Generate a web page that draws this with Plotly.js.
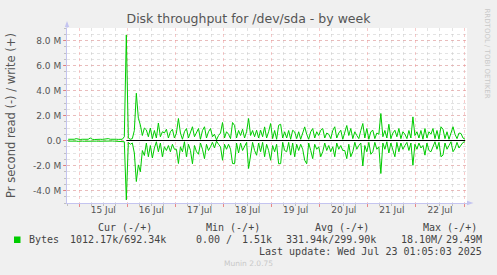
<!DOCTYPE html>
<html>
<head>
<meta charset="utf-8">
<script src="https://cdn.plot.ly/plotly-3.0.1.min.js"></script>
<style>
  html, body { margin: 0; padding: 0; background: #F0F0F0; }
  #chart { width: 497px; height: 275px; }
</style>
</head>
<body>
<div id="chart"></div>
<script>
// ---------------- DATA ----------------
// hourly samples starting at this time (UTC-naive)
const startTime = Date.UTC(2025, 6, 14, 18, 30);
const stepHours = 1;

// write (+) in MB/s, hourly
const writeMB = [
  0.1, 0.08, 0.12, 0.1, 0.15, 0.1, 0.08, 0.1, 0.12, 0.09,
  0.1, 0.2, 0.1, 0.08, 0.1, 0.11, 0.1, 0.09, 0.12, 0.1,
  0.15, 0.1, 0.08, 0.1, 0.1, 0.09, 0.12, 0.1, 0.3,
  8.45, 0.2, 0.1, 0.15, 0.8, 3.78, 1.78, 1.25, 0.4, 1.0,
  0.85, 0.3, 1.0, 0.15, 0.8, 0.2, 1.4, 0.3, 0.7, 0.6,
  0.9, 0.2, 0.7, 0.9, 0.2, 0.6, 1.76, 0.6, 0.1, 0.7,
  0.96, 0.2, 0.7, 1.1, 0.3, 0.6, 0.96, 0.1, 0.8, 1.1,
  0.2, 0.7, 0.96, 0.3, 0.5, 0.05, 0.4, 0.6, 1.44, 0.2,
  0.7, 0.5, 0.15, 1.44, 1.2, 0.2, 0.8, 0.4, 0.9, 0.2,
  0.7, 1.76, 0.4, 0.8, 0.3, 0.82, 0.2, 0.82, 0.3, 1.09,
  0.2, 0.7, 1.36, 0.15, 0.8, 0.1, 1.22, 1.3, 0.2, 0.7,
  0.2, 0.8, 0.1, 0.82, 0.69, 0.15, 0.7, 0.1, 0.6, 1.09,
  0.5, 0.1, 0.7, 0.96, 0.2, 0.7, 0.4, 0.82, 0.96, 0.2,
  0.6, 0.5, 0.15, 0.8, 1.1, 0.2, 0.6, 0.82, 0.1, 0.7,
  1.2, 0.4, 0.96, 0.15, 0.7, 0.4, 0.15, 0.8, 1.36, 0.2,
  0.96, 0.1, 0.7, 0.82, 0.15, 0.6, 0.5, 2.16, 0.3, 0.8,
  0.2, 1.3, 0.15, 0.6, 0.82, 0.3, 0.96, 0.15, 0.7, 0.5,
  0.15, 0.8, 0.2, 1.89, 0.4, 0.7, 0.2, 0.8, 0.1, 0.96,
  0.2, 0.7, 0.5, 0.96, 0.15, 0.8, 0.1, 1.1, 0.9, 0.15,
  0.7, 0.1, 0.6, 1.1, 0.5, 0.15, 0.6, 0.56, 0.2, 0.1
];

// read (-) in MB/s, hourly (plotted negative)
const readMB = [
  -0.05, -0.04, -0.06, -0.05, -0.05, -0.07, -0.04, -0.05, -0.06, -0.05,
  -0.05, -0.08, -0.05, -0.04, -0.05, -0.06, -0.05, -0.04, -0.06, -0.05,
  -0.07, -0.05, -0.04, -0.05, -0.05, -0.04, -0.06, -0.05, -0.1,
  -4.75, -0.15, -0.3, -0.2, -1.0, -3.28, -1.95, -2.5, -0.8, -1.2,
  -0.2, -1.3, -0.4, -1.4, -0.6, -0.1, -0.9, -0.2, -1.3, -0.5,
  -0.8, -0.4, -0.9, -0.3, -0.7, -0.7, -1.84, -0.5, -0.9, -0.1,
  -1.3, -0.3, -0.8, -1.86, -0.4, -0.9, -1.1, -0.2, -0.7, -1.45,
  -0.3, -0.8, -0.5, -0.15, -0.6, -0.05, -0.3, -0.5, -1.58, -0.3,
  -0.7, -0.3, -0.7, -1.84, -1.86, -0.2, -1.0, -0.2, -0.8, -0.5,
  -0.15, -2.24, -1.0, -0.15, -0.8, -1.18, -0.2, -0.9, -0.15, -1.3,
  -0.3, -0.8, -1.58, -0.4, -0.9, -0.3, -1.86, -1.85, -0.15, -0.8,
  -0.9, -0.15, -1.17, -0.2, -1.3, -0.3, -0.8, -0.3, -0.7, -1.58,
  -1.86, -0.2, -0.8, -1.45, -0.3, -0.7, -0.5, -1.3, -0.9, -0.2,
  -0.8, -0.4, -0.9, -0.5, -1.3, -0.2, -0.7, -0.4, -0.8, -0.8,
  -1.45, -0.3, -1.3, -0.9, -0.15, -0.7, -0.4, -0.2, -2.03, -0.4,
  -0.9, -0.15, -1.1, -0.9, -0.15, -0.7, -0.5, -2.64, -0.2, -0.7,
  -0.1, -1.0, -0.2, -0.8, -1.3, -0.15, -0.9, -0.2, -0.7, -0.4,
  -0.15, -0.8, -0.2, -1.98, -0.3, -0.7, -0.2, -0.6, -0.4, -1.17,
  -0.2, -0.8, -0.9, -0.5, -0.1, -0.7, -0.15, -1.3, -1.17, -0.2,
  -0.7, -0.4, -0.1, -0.9, -0.64, -0.15, -0.6, -0.37, -0.15, -0.1
];
const spikeIndex = 29; // first sample of the active period

const dayTickVals = ['2025-07-15 12:00', '2025-07-16 12:00', '2025-07-17 12:00', '2025-07-18 12:00',
                     '2025-07-19 12:00', '2025-07-20 12:00', '2025-07-21 12:00', '2025-07-22 12:00'];
const dayLabels = ['15 Jul', '16 Jul', '17 Jul', '18 Jul', '19 Jul', '20 Jul', '21 Jul', '22 Jul'];

const yTickVals = [-4e6, -2e6, 0, 2e6, 4e6, 6e6, 8e6];
const yTickText = ['-4.0 M', '-2.0 M', '0.0', '2.0 M', '4.0 M', '6.0 M', '8.0 M'];

const legendName = 'Bytes';
const statHeaders = ['Cur (-/+)', 'Min (-/+)', 'Avg (-/+)', 'Max (-/+)'];
const statCur = '1012.17k/692.34k';
const statMinA = '0.00 /', statMinB = '1.51k';
const statAvg = '331.94k/299.90k';
const statMaxA = '18.10M/', statMaxB = '29.49M';
const lastUpdate = 'Last update: Wed Jul 23 01:05:03 2025';
const muninVersion = 'Munin 2.0.75';
const rrdCredit = 'RRDTOOL / TOBI OETIKER';

// ---------------- BUILD ----------------
function ts(i) {
  return new Date(startTime + i * stepHours * 3600000).toISOString().slice(0, 19).replace('T', ' ');
}
const times = writeMB.map((_, i) => ts(i));
const writeVals = writeMB.map(v => v * 1e6);
const readVals = readMB.map(v => v * 1e6);

const W = 497, H = 275, L = 67, R = 30, T = 28, B = 72;
const pw = W - L - R, ph = H - T - B;
const px = p => (p - L) / pw;
const py = p => (H - B - p) / ph;

const green = '#00CC00';
const axisBlue = '#c4c4f0';
const txt = '#555555';
const mono = 'DejaVu Sans Mono, monospace';
const sans = 'DejaVu Sans, sans-serif';

const xRange = ['2025-07-14 17:54', '2025-07-23 01:29'];

const traces = [
  { x: times, y: readVals, type: 'scatter', mode: 'lines', line: { color: green, width: 1 }, hoverinfo: 'skip', showlegend: false },
  { x: times, y: writeVals, type: 'scatter', mode: 'lines', line: { color: green, width: 1 }, hoverinfo: 'skip', showlegend: false },
  { x: [], y: [], xaxis: 'x2', yaxis: 'y', type: 'scatter', showlegend: false }
];

const ann = [];
const a = (text, x, y, xanchor, font, extra) => ann.push(Object.assign({
  text, x: px(x), y: py(y), xref: 'paper', yref: 'paper', xanchor, yanchor: 'middle',
  showarrow: false, font
}, extra || {}));

const monoFont = { family: mono, size: 10, color: '#444' };
a(statHeaders[0], 125, 227.3, 'center', monoFont);
a(statHeaders[1], 233, 227.3, 'center', monoFont);
a(statHeaders[2], 341.5, 227.3, 'center', monoFont);
a(statHeaders[3], 449.5, 227.3, 'center', monoFont);
a(legendName, 27, 239.7, 'left', monoFont);
a(statCur, 168, 239.7, 'right', monoFont);
a(statMinA, 194, 239.7, 'left', monoFont);
a(statMinB, 274, 239.7, 'right', monoFont);
a(statAvg, 378, 239.7, 'right', monoFont);
a(statMaxA, 399, 239.7, 'left', monoFont);
a(statMaxB, 484, 239.7, 'right', monoFont);
a(lastUpdate, 484, 251.7, 'right', monoFont);
a(muninVersion, 248, 263.3, 'center', { family: sans, size: 7.5, color: '#c8c8c8' });
a(rrdCredit, 486.5, 53, 'center', { family: sans, size: 7, color: '#c8c8c8' }, { textangle: 90 });

const shapes = [
  // legend colour box
  { type: 'rect', xref: 'paper', yref: 'paper', x0: px(14), x1: px(20.5), y0: py(243), y1: py(236.5),
    fillcolor: green, line: { width: 0 } },
  // zero line
  { type: 'line', xref: 'x', yref: 'y', x0: times[spikeIndex], x1: times[times.length - 1], y0: 0, y1: 0,
    line: { color: '#000', width: 1.2 }, layer: 'above' },
  // axis arrows
  { type: 'path', xref: 'paper', yref: 'paper',
    path: `M ${px(467)},${py(200.8)} L ${px(473.5)},${py(203)} L ${px(467)},${py(205.2)} Z`,
    fillcolor: axisBlue, line: { width: 0 } },
  { type: 'line', xref: 'paper', yref: 'paper', x0: 1, x1: px(468), y0: 0, y1: 0, line: { color: axisBlue, width: 1 } },
  { type: 'path', xref: 'paper', yref: 'paper',
    path: `M ${px(64.8)},${py(27)} L ${px(67)},${py(21)} L ${px(69.2)},${py(27)} Z`,
    fillcolor: axisBlue, line: { width: 0 } },
  { type: 'line', xref: 'paper', yref: 'paper', x0: 0, x1: 0, y0: 1, y1: py(26.5), line: { color: axisBlue, width: 1 } }
];

const majorGrid = 'rgba(240,140,140,0.45)';
const minorGrid = 'rgba(200,200,200,0.5)';

const layout = {
  width: W, height: H,
  margin: { l: L, r: R, t: T, b: B, pad: 0 },
  paper_bgcolor: '#F0F0F0',
  plot_bgcolor: '#FFFFFF',
  font: { family: sans, size: 9, color: txt },
  title: {
    text: 'Disk throughput for /dev/sda - by week',
    x: 0.5, xref: 'container', xanchor: 'center',
    y: 1 - 19 / H, yref: 'container', yanchor: 'middle',
    font: { family: sans, size: 12.5, color: txt }
  },
  showlegend: false,
  xaxis: {
    type: 'date', range: xRange, fixedrange: true,
    tickmode: 'linear', tick0: '2025-07-15 00:00', dtick: 86400000,
    showticklabels: false,
    ticks: 'outside', ticklen: 3, tickcolor: 'rgba(230,110,110,0.8)', tickwidth: 1,
    showgrid: true, gridcolor: majorGrid, griddash: 'dot', gridwidth: 1,
    minor: { tick0: '2025-07-15 00:00', dtick: 21600000, showgrid: true, gridcolor: minorGrid, griddash: 'dot',
             ticks: 'outside', ticklen: 2, tickcolor: '#c0c0c0' },
    showline: true, linecolor: axisBlue, linewidth: 1,
    zeroline: false
  },
  xaxis2: {
    type: 'date', range: xRange, overlaying: 'x', anchor: 'y', side: 'bottom', fixedrange: true,
    tickmode: 'array', tickvals: dayTickVals, ticktext: dayLabels,
    ticks: '', showgrid: false, showline: false, zeroline: false,
    tickfont: { family: sans, size: 9, color: txt }
  },
  yaxis: {
    range: [-5e6, 9e6], fixedrange: true,
    tickmode: 'array', tickvals: yTickVals, ticktext: yTickText,
    tickfont: { family: sans, size: 9, color: txt },
    ticks: 'outside', ticklen: 3, tickcolor: 'rgba(230,110,110,0.8)',
    showgrid: true, gridcolor: majorGrid, griddash: 'dot', gridwidth: 1,
    minor: { tick0: 0, dtick: 5e5, showgrid: true, gridcolor: minorGrid, griddash: 'dot',
             ticks: 'outside', ticklen: 2, tickcolor: '#c0c0c0' },
    showline: true, linecolor: axisBlue, linewidth: 1,
    zeroline: false,
    title: { text: 'Pr second read (-) / write (+)', standoff: 14, font: { family: sans, size: 11.5, color: txt } }
  },
  annotations: ann,
  shapes: shapes
};

Plotly.newPlot('chart', traces, layout, { staticPlot: true, displayModeBar: false });
</script>
</body>
</html>
